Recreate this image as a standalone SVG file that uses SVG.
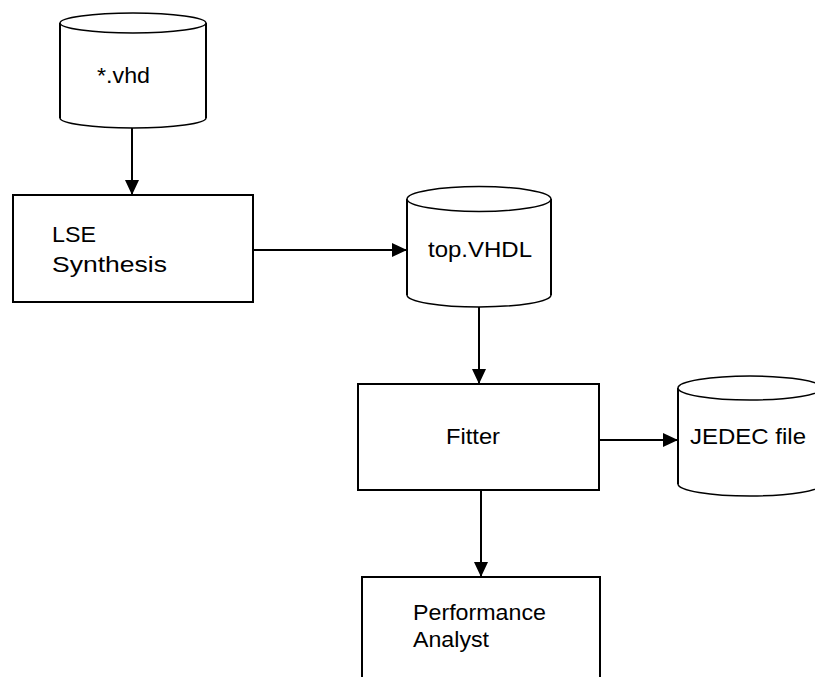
<svg xmlns="http://www.w3.org/2000/svg" width="815" height="677" viewBox="0 0 815 677">
  <style>
    .box { fill: #ffffff; stroke: #000000; stroke-width: 2; }
    .cyl-side { fill: none; stroke: #000000; stroke-width: 2; }
    .cyl-ell { fill: #ffffff; stroke: #000000; stroke-width: 1.5; }
    .cyl-bot { fill: none; stroke: #000000; stroke-width: 1.5; }
    .cyl-body { fill: #ffffff; stroke: none; }
    .conn { fill: none; stroke: #000000; stroke-width: 2; }
    .lbl { font-family: "Liberation Sans", Arial, sans-serif; font-size: 22.5px; fill: #000000; }
  </style>
  <defs>
    <marker id="arrow" markerUnits="userSpaceOnUse" markerWidth="16" markerHeight="14" refX="15" refY="7" orient="auto">
      <path d="M0,0 L15,7 L0,14 Z" fill="#000000"/>
    </marker>
  </defs>
  <rect x="0" y="0" width="815" height="677" fill="#ffffff"/>

  <g id="connectors">
    <line class="conn" x1="132" y1="128" x2="132" y2="195" marker-end="url(#arrow)"/>
    <line class="conn" x1="253" y1="250" x2="407" y2="250" marker-end="url(#arrow)"/>
    <line class="conn" x1="479" y1="307" x2="479" y2="384" marker-end="url(#arrow)"/>
    <line class="conn" x1="599" y1="440" x2="678" y2="440" marker-end="url(#arrow)"/>
    <line class="conn" x1="481" y1="490" x2="481" y2="577" marker-end="url(#arrow)"/>
  </g>

  <g id="node-vhd">
    <path class="cyl-body" d="M60,23 L60,118 A73,10 0 0 0 206,118 L206,23 Z"/>
    <path class="cyl-side" d="M60,23 L60,118 M206,23 L206,118"/>
    <path class="cyl-bot" d="M60,118 A73,10 0 0 0 206,118"/>
    <ellipse class="cyl-ell" cx="133" cy="23" rx="73" ry="10"/>
    <text class="lbl" x="97" y="83" textLength="53" lengthAdjust="spacingAndGlyphs">*.vhd</text>
  </g>

  <g id="node-lse">
    <rect class="box" x="13" y="195" width="240" height="107"/>
    <text class="lbl" x="52" y="242" textLength="44" lengthAdjust="spacingAndGlyphs">LSE</text>
    <text class="lbl" x="52" y="272" textLength="115" lengthAdjust="spacingAndGlyphs">Synthesis</text>
  </g>

  <g id="node-top">
    <path class="cyl-body" d="M407,199 L407,295 A72,12 0 0 0 551,295 L551,199 Z"/>
    <path class="cyl-side" d="M407,199 L407,295 M551,199 L551,295"/>
    <path class="cyl-bot" d="M407,295 A72,12 0 0 0 551,295"/>
    <ellipse class="cyl-ell" cx="479" cy="199" rx="72" ry="12.5"/>
    <text class="lbl" x="428" y="257" textLength="104" lengthAdjust="spacingAndGlyphs">top.VHDL</text>
  </g>

  <g id="node-fitter">
    <rect class="box" x="358" y="384" width="241" height="106"/>
    <text class="lbl" x="446" y="444" textLength="54" lengthAdjust="spacingAndGlyphs">Fitter</text>
  </g>

  <g id="node-jedec">
    <path class="cyl-body" d="M678,388 L678,484 A72,12 0 0 0 822,484 L822,388 Z"/>
    <path class="cyl-side" d="M678,388 L678,484 M822,388 L822,484"/>
    <path class="cyl-bot" d="M678,484 A72,12 0 0 0 822,484"/>
    <ellipse class="cyl-ell" cx="750" cy="388" rx="72" ry="12"/>
    <text class="lbl" x="690" y="444" textLength="116" lengthAdjust="spacingAndGlyphs">JEDEC file</text>
  </g>

  <g id="node-perf">
    <rect class="box" x="362" y="577" width="238" height="120"/>
    <text class="lbl" x="413" y="619.5" textLength="133" lengthAdjust="spacingAndGlyphs">Performance</text>
    <text class="lbl" x="413" y="647" textLength="76" lengthAdjust="spacingAndGlyphs">Analyst</text>
  </g>
</svg>
